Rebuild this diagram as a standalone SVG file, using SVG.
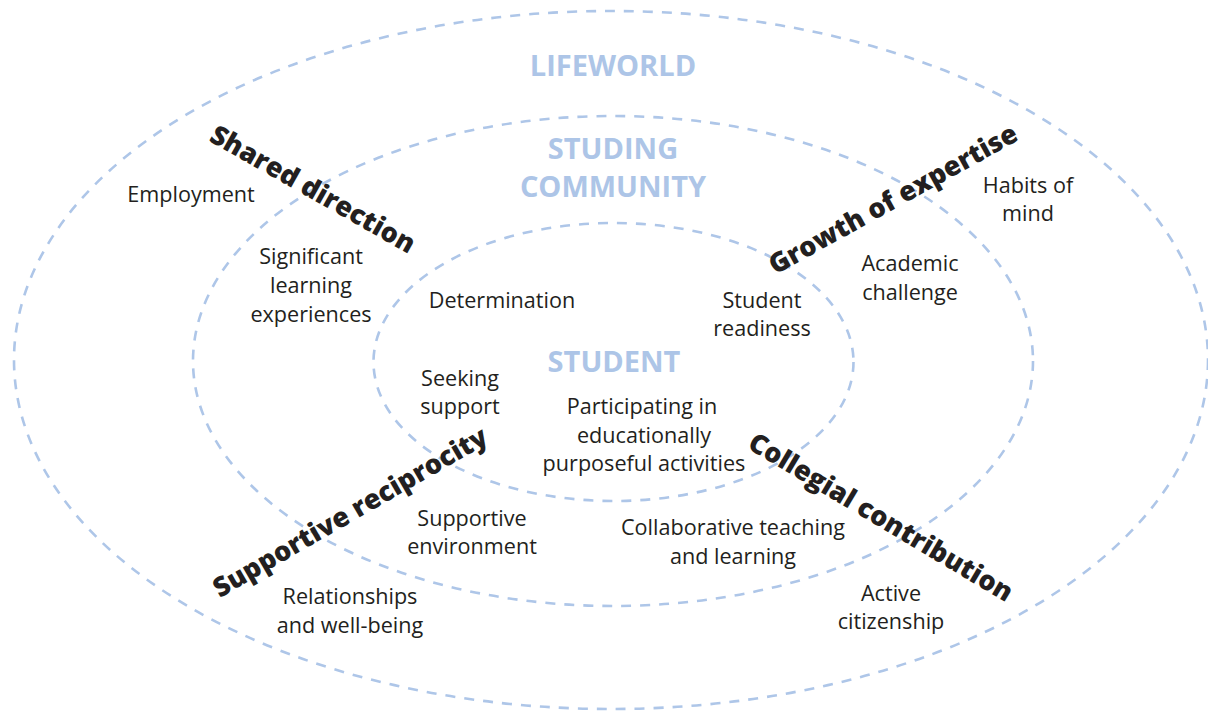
<svg xmlns="http://www.w3.org/2000/svg" width="1208" height="711" viewBox="0 0 1208 711">
<style>
.ring{fill:none;stroke:#aec6e8;stroke-width:2.6;stroke-dasharray:10 9}
.hdr{font-family:"Open Sans","Liberation Sans",sans-serif;font-weight:700;font-size:29px;fill:#adc5e7;text-anchor:middle}
.lbl{font-family:"Open Sans","Liberation Sans",sans-serif;font-size:21.6px;fill:#231f20;text-anchor:middle}
.axis{font-family:"Open Sans","Liberation Sans",sans-serif;font-weight:800;font-size:27px;fill:#231f20;text-anchor:middle}
</style>
<rect width="1208" height="711" fill="#ffffff"/>
<g id="connectors">
<ellipse id="lifeworld-ring" class="ring" cx="611" cy="360" rx="597" ry="349"/>
<ellipse id="community-ring" class="ring" cx="613" cy="361" rx="420" ry="245"/>
<ellipse id="student-ring" class="ring" cx="613.5" cy="362" rx="240" ry="139"/>
</g>
<g id="lifeworld"><text class="hdr" x="613" y="76">LIFEWORLD</text></g>
<g id="community"><text class="hdr" x="613" y="159">STUDING</text><text class="hdr" x="613" y="197">COMMUNITY</text></g>
<g id="student"><text class="hdr" x="614" y="372">STUDENT</text></g>

<g id="shared-direction"><text class="axis" transform="translate(313,189) rotate(29.5)" dy="0.35em">Shared direction</text></g>
<g id="growth-of-expertise"><text class="axis" transform="translate(893,199) rotate(-29)" dy="0.35em">Growth of expertise</text></g>
<g id="supportive-reciprocity"><text class="axis" transform="translate(350,512) rotate(-30)" dy="0.35em">Supportive reciprocity</text></g>
<g id="collegial-contribution"><text class="axis" transform="translate(881,517) rotate(30.8)" dy="0.35em">Collegial contribution</text></g>

<g id="employment"><text class="lbl" x="191" y="202">Employment</text></g>
<g id="habits-of-mind"><text class="lbl" x="1028" y="193">Habits of</text><text class="lbl" x="1028" y="221">mind</text></g>
<g id="significant-learning"><text class="lbl" x="311" y="264">Significant</text><text class="lbl" x="311" y="293">learning</text><text class="lbl" x="311" y="322">experiences</text></g>
<g id="determination"><text class="lbl" x="502" y="308">Determination</text></g>
<g id="student-readiness"><text class="lbl" x="762" y="308">Student</text><text class="lbl" x="762" y="336">readiness</text></g>
<g id="academic-challenge"><text class="lbl" x="910" y="271">Academic</text><text class="lbl" x="910" y="300">challenge</text></g>
<g id="seeking-support"><text class="lbl" x="460" y="386">Seeking</text><text class="lbl" x="460" y="414">support</text></g>
<g id="participating"><text class="lbl" x="642" y="414">Participating in</text><text class="lbl" x="644" y="443">educationally</text><text class="lbl" x="644" y="471">purposeful activities</text></g>
<g id="supportive-environment"><text class="lbl" x="472" y="526">Supportive</text><text class="lbl" x="472" y="554">environment</text></g>
<g id="relationships"><text class="lbl" x="350" y="604">Relationships</text><text class="lbl" x="350" y="633">and well-being</text></g>
<g id="collaborative"><text class="lbl" x="733" y="535">Collaborative teaching</text><text class="lbl" x="733" y="564">and learning</text></g>
<g id="active-citizenship"><text class="lbl" x="891" y="601">Active</text><text class="lbl" x="891" y="629">citizenship</text></g>
</svg>
